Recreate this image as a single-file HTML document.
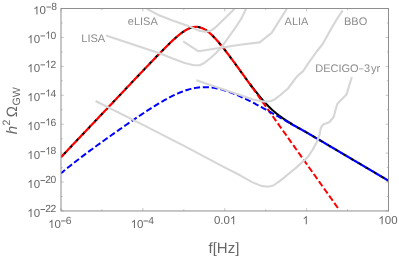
<!DOCTYPE html>
<html><head><meta charset="utf-8"><title>GW spectrum</title>
<style>html,body{margin:0;padding:0;background:#fff;}body{width:399px;height:259px;position:relative;overflow:hidden;font-family:"Liberation Sans",sans-serif;}</style>
</head><body>
<svg width="399" height="259" viewBox="0 0 399 259" style="position:absolute;left:0;top:0;text-rendering:geometricPrecision;will-change:transform">
<defs><clipPath id="c"><rect x="61.00" y="8.50" width="327.50" height="202.45"/></clipPath><clipPath id="cl2"><rect x="252" y="0" width="150" height="259"/></clipPath><clipPath id="cr2"><rect x="0" y="0" width="290" height="259"/></clipPath><clipPath id="cl"><rect x="0" y="0" width="252" height="259"/></clipPath><clipPath id="cr"><rect x="290" y="0" width="110" height="259"/></clipPath></defs>
<g clip-path="url(#c)" fill="none" stroke-linejoin="round">
<path d="M61.00 156.77 L62.00 155.73 L63.00 154.68 L64.00 153.64 L65.00 152.60 L66.00 151.56 L67.00 150.52 L68.00 149.48 L69.00 148.44 L70.00 147.39 L71.00 146.35 L72.00 145.31 L73.00 144.26 L74.00 143.22 L75.00 142.18 L76.00 141.13 L77.00 140.09 L78.00 139.04 L79.00 138.00 L80.00 136.95 L81.00 135.91 L82.00 134.86 L83.00 133.81 L84.00 132.77 L85.00 131.72 L86.00 130.67 L87.00 129.62 L88.00 128.57 L89.00 127.52 L90.00 126.48 L91.00 125.43 L92.00 124.38 L93.00 123.33 L94.00 122.28 L95.00 121.23 L96.00 120.18 L97.00 119.13 L98.00 118.07 L99.00 117.02 L100.00 115.97 L101.00 114.92 L102.00 113.87 L103.00 112.82 L104.00 111.76 L105.00 110.71 L106.00 109.66 L107.00 108.61 L108.00 107.55 L109.00 106.50 L110.00 105.45 L111.00 104.39 L112.00 103.34 L113.00 102.29 L114.00 101.23 L115.00 100.18 L116.00 99.13 L117.00 98.07 L118.00 97.02 L119.00 95.96 L120.00 94.91 L121.00 93.86 L122.00 92.80 L123.00 91.75 L124.00 90.69 L125.00 89.64 L126.00 88.59 L127.00 87.53 L128.00 86.48 L129.00 85.42 L130.00 84.37 L131.00 83.32 L132.00 82.26 L133.00 81.21 L134.00 80.16 L135.00 79.10 L136.00 78.05 L137.00 77.00 L138.00 75.94 L139.00 74.89 L140.00 73.84 L141.00 72.79 L142.00 71.74 L143.00 70.68 L144.00 69.63 L145.00 68.58 L146.00 67.54 L147.00 66.49 L148.00 65.44 L149.00 64.39 L150.00 63.35 L151.00 62.30 L152.00 61.26 L153.00 60.22 L154.00 59.18 L155.00 58.14 L156.00 57.10 L157.00 56.07 L158.00 55.04 L159.00 54.01 L160.00 52.98 L161.00 51.96 L162.00 50.94 L163.00 49.93 L164.00 48.92 L165.00 47.92 L166.00 46.92 L167.00 45.93 L168.00 44.94 L169.00 43.97 L170.00 43.00 L171.00 42.05 L172.00 41.10 L173.00 40.17 L174.00 39.26 L175.00 38.35 L176.00 37.47 L177.00 36.60 L178.00 35.76 L179.00 34.93 L180.00 34.14 L181.00 33.36 L182.00 32.62 L183.00 31.91 L184.00 31.24 L185.00 30.60 L186.00 30.01 L187.00 29.45 L188.00 28.95 L189.00 28.49 L190.00 28.08 L191.00 27.73 L192.00 27.44 L193.00 27.21 L194.00 27.04 L195.00 26.94 L196.00 26.90 L197.00 26.93 L198.00 27.03 L199.00 27.20 L200.00 27.43 L201.00 27.74 L202.00 28.11 L203.00 28.55 L204.00 29.06 L205.00 29.62 L206.00 30.25 L207.00 30.94 L208.00 31.69 L209.00 32.48 L210.00 33.33 L211.00 34.22 L212.00 35.16 L213.00 36.14 L214.00 37.16 L215.00 38.21 L216.00 39.30 L217.00 40.41 L218.00 41.56 L219.00 42.72 L220.00 43.92 L221.00 45.13 L222.00 46.36 L223.00 47.61 L224.00 48.87 L225.00 50.15 L226.00 51.44 L227.00 52.75 L228.00 54.06 L229.00 55.38 L230.00 56.71 L231.00 58.05 L232.00 59.39 L233.00 60.74 L234.00 62.10 L235.00 63.45 L236.00 64.82 L237.00 66.18 L238.00 67.55 L239.00 68.92 L240.00 70.28 L241.00 71.65 L242.00 73.02 L243.00 74.39 L244.00 75.76 L245.00 77.13 L246.00 78.49 L247.00 79.85 L248.00 81.21 L249.00 82.56 L250.00 83.91 L251.00 85.25 L252.00 86.58 L253.00 87.90 L254.00 89.22 L255.00 90.52 L256.00 91.81 L257.00 93.09 L258.00 94.35 L259.00 95.59 L260.00 96.82 L261.00 98.03 L262.00 99.21 L263.00 100.38 L264.00 101.52 L265.00 102.63 L266.00 103.72 L267.00 104.79 L268.00 105.82 L269.00 106.83 L270.00 107.81 L271.00 108.76 L272.00 109.69 L273.00 110.58 L274.00 111.45 L275.00 112.30 L276.00 113.12 L277.00 113.93 L278.00 114.70 L279.00 115.46 L280.00 116.21 L281.00 116.93 L282.00 117.64 L283.00 118.34 L284.00 119.02 L285.00 119.69 L286.00 120.35 L287.00 121.00 L288.00 121.63 L289.00 122.25 L290.00 122.87 L291.00 123.47 L292.00 124.07 L293.00 124.66 L294.00 125.24 L295.00 125.82 L296.00 126.40 L297.00 126.97 L298.00 127.54 L299.00 128.11 L300.00 128.68 L301.00 129.24 L302.00 129.81 L303.00 130.37 L304.00 130.94 L305.00 131.51 L306.00 132.08 L307.00 132.66 L308.00 133.23 L309.00 133.81 L310.00 134.40 L311.00 134.99 L312.00 135.58 L313.00 136.17 L314.00 136.76 L315.00 137.35 L316.00 137.94 L317.00 138.53 L318.00 139.12 L319.00 139.71 L320.00 140.30 L321.00 140.89 L322.00 141.48 L323.00 142.07 L324.00 142.66 L325.00 143.25 L326.00 143.84 L327.00 144.43 L328.00 145.02 L329.00 145.61 L330.00 146.20 L331.00 146.79 L332.00 147.38 L333.00 147.97 L334.00 148.56 L335.00 149.15 L336.00 149.74 L337.00 150.33 L338.00 150.92 L339.00 151.51 L340.00 152.10 L341.00 152.69 L342.00 153.28 L343.00 153.87 L344.00 154.46 L345.00 155.05 L346.00 155.64 L347.00 156.23 L348.00 156.82 L349.00 157.41 L350.00 158.00 L351.00 158.59 L352.00 159.18 L353.00 159.77 L354.00 160.36 L355.00 160.95 L356.00 161.54 L357.00 162.13 L358.00 162.72 L359.00 163.31 L360.00 163.90 L361.00 164.49 L362.00 165.08 L363.00 165.67 L364.00 166.26 L365.00 166.85 L366.00 167.44 L367.00 168.03 L368.00 168.62 L369.00 169.21 L370.00 169.80 L371.00 170.39 L372.00 170.98 L373.00 171.57 L374.00 172.16 L375.00 172.75 L376.00 173.34 L377.00 173.93 L378.00 174.52 L379.00 175.11 L380.00 175.71 L381.00 176.30 L382.00 176.89 L383.00 177.48 L384.00 178.07 L385.00 178.66 L386.00 179.25 L387.00 179.84 L388.00 180.43 L388.50 180.72" stroke="#000" stroke-width="1.1"/>
<path d="M250.00 83.91 L250.50 84.58 L251.00 85.25 L251.50 85.91 L252.00 86.58 L252.50 87.24 L253.00 87.90 L253.50 88.56 L254.00 89.22 L254.50 89.87 L255.00 90.52 L255.50 91.17 L256.00 91.81 L256.50 92.45 L257.00 93.09 L257.50 93.72 L258.00 94.35 L258.50 94.97 L259.00 95.59 L259.50 96.21 L260.00 96.82 L260.50 97.43 L261.00 98.03 L261.50 98.62 L262.00 99.21 L262.50 99.80 L263.00 100.38 L263.50 100.95 L264.00 101.52 L264.50 102.08 L265.00 102.63 L265.50 103.18 L266.00 103.72 L266.50 104.26 L267.00 104.79 L267.50 105.31 L268.00 105.82 L268.50 106.33 L269.00 106.83 L269.50 107.32 L270.00 107.81 L270.50 108.29 L271.00 108.76 L271.50 109.23 L272.00 109.69 L272.50 110.14 L273.00 110.58 L273.50 111.02 L274.00 111.45 L274.50 111.88 L275.00 112.30 L275.50 112.72 L276.00 113.12 L276.50 113.53 L277.00 113.93 L277.50 114.32 L278.00 114.70 L278.50 115.09 L279.00 115.46 L279.50 115.84 L280.00 116.21 L280.50 116.57 L281.00 116.93 L281.50 117.29 L282.00 117.64 L282.50 117.99 L283.00 118.34 L283.50 118.68 L284.00 119.02 L284.50 119.36 L285.00 119.69 L285.50 120.02 L286.00 120.35 L286.50 120.68 L287.00 121.00 L287.50 121.31 L288.00 121.63 L288.50 121.94 L289.00 122.25 L289.50 122.56 L290.00 122.87 L290.50 123.17 L291.00 123.47 L291.50 123.77 L292.00 124.07" stroke="#000" stroke-width="2.00"/>
<path d="M61.00 157.23 L62.00 156.17 L63.00 155.12 L64.00 154.06 L65.00 153.01 L66.00 151.95 L67.00 150.89 L68.00 149.84 L69.00 148.78 L70.00 147.73 L71.00 146.67 L72.00 145.61 L73.00 144.56 L74.00 143.50 L75.00 142.45 L76.00 141.39 L77.00 140.34 L78.00 139.28 L79.00 138.22 L80.00 137.17 L81.00 136.11 L82.00 135.06 L83.00 134.00 L84.00 132.94 L85.00 131.89 L86.00 130.83 L87.00 129.78 L88.00 128.72 L89.00 127.67 L90.00 126.61 L91.00 125.55 L92.00 124.50 L93.00 123.44 L94.00 122.39 L95.00 121.33 L96.00 120.27 L97.00 119.22 L98.00 118.16 L99.00 117.11 L100.00 116.05 L101.00 115.00 L102.00 113.94 L103.00 112.88 L104.00 111.83 L105.00 110.77 L106.00 109.72 L107.00 108.66 L108.00 107.60 L109.00 106.55 L110.00 105.49 L111.00 104.44 L112.00 103.38 L113.00 102.33 L114.00 101.27 L115.00 100.21 L116.00 99.16 L117.00 98.10 L118.00 97.05 L119.00 95.99 L120.00 94.94 L121.00 93.88 L122.00 92.83 L123.00 91.77 L124.00 90.72 L125.00 89.66 L126.00 88.60 L127.00 87.55 L128.00 86.49 L129.00 85.44 L130.00 84.38 L131.00 83.33 L132.00 82.28 L133.00 81.22 L134.00 80.17 L135.00 79.11 L136.00 78.06 L137.00 77.01 L138.00 75.95 L139.00 74.90 L140.00 73.85 L141.00 72.79 L142.00 71.74 L143.00 70.69 L144.00 69.64 L145.00 68.59 L146.00 67.54 L147.00 66.49 L148.00 65.44 L149.00 64.40 L150.00 63.35 L151.00 62.31 L152.00 61.26 L153.00 60.22 L154.00 59.18 L155.00 58.14 L156.00 57.10 L157.00 56.07 L158.00 55.04 L159.00 54.01 L160.00 52.98 L161.00 51.96 L162.00 50.94 L163.00 49.93 L164.00 48.92 L165.00 47.92 L166.00 46.92 L167.00 45.93 L168.00 44.95 L169.00 43.97 L170.00 43.00 L171.00 42.05 L172.00 41.11 L173.00 40.17 L174.00 39.26 L175.00 38.35 L176.00 37.47 L177.00 36.60 L178.00 35.76 L179.00 34.93 L180.00 34.14 L181.00 33.37 L182.00 32.62 L183.00 31.91 L184.00 31.24 L185.00 30.60 L186.00 30.01 L187.00 29.45 L188.00 28.95 L189.00 28.49 L190.00 28.08 L191.00 27.73 L192.00 27.44 L193.00 27.21 L194.00 27.04 L195.00 26.94 L196.00 26.90 L197.00 26.93 L198.00 27.03 L199.00 27.20 L200.00 27.43 L201.00 27.74 L202.00 28.11 L203.00 28.55 L204.00 29.06 L205.00 29.63 L206.00 30.25 L207.00 30.94 L208.00 31.69 L209.00 32.48 L210.00 33.33 L211.00 34.22 L212.00 35.16 L213.00 36.14 L214.00 37.16 L215.00 38.21 L216.00 39.30 L217.00 40.42 L218.00 41.56 L219.00 42.73 L220.00 43.92 L221.00 45.13 L222.00 46.37 L223.00 47.62 L224.00 48.88 L225.00 50.16 L226.00 51.46 L227.00 52.76 L228.00 54.08 L229.00 55.40 L230.00 56.73 L231.00 58.07 L232.00 59.42 L233.00 60.78 L234.00 62.14 L235.00 63.50 L236.00 64.87 L237.00 66.24 L238.00 67.62 L239.00 69.00 L240.00 70.38 L241.00 71.77 L242.00 73.16 L243.00 74.55 L244.00 75.94 L245.00 77.33 L246.00 78.73 L247.00 80.12 L248.00 81.52 L249.00 82.92 L250.00 84.32 L251.00 85.72 L252.00 87.12 L253.00 88.52 L254.00 89.93 L255.00 91.33 L256.00 92.73 L257.00 94.14 L258.00 95.54 L259.00 96.95 L260.00 98.35 L261.00 99.76 L262.00 101.16 L263.00 102.57 L264.00 103.98 L265.00 105.38 L266.00 106.79 L267.00 108.20 L268.00 109.60 L269.00 111.01 L270.00 112.42 L271.00 113.82 L272.00 115.23 L273.00 116.64 L274.00 118.04 L275.00 119.45 L276.00 120.86 L277.00 122.27 L278.00 123.67 L279.00 125.08 L280.00 126.49 L281.00 127.90 L282.00 129.30 L283.00 130.71 L284.00 132.12 L285.00 133.53 L286.00 134.93 L287.00 136.34 L288.00 137.75 L289.00 139.16 L290.00 140.57 L291.00 141.97 L292.00 143.38 L293.00 144.79 L294.00 146.20 L295.00 147.60 L296.00 149.01 L297.00 150.42 L298.00 151.83 L299.00 153.24 L300.00 154.64 L301.00 156.05 L302.00 157.46 L303.00 158.87 L304.00 160.27 L305.00 161.68 L306.00 163.09 L307.00 164.50 L308.00 165.91 L309.00 167.31 L310.00 168.72 L311.00 170.13 L312.00 171.54 L313.00 172.94 L314.00 174.35 L315.00 175.76 L316.00 177.17 L317.00 178.58 L318.00 179.98 L319.00 181.39 L320.00 182.80 L321.00 184.21 L322.00 185.61 L323.00 187.02 L324.00 188.43 L325.00 189.84 L326.00 191.25 L327.00 192.65 L328.00 194.06 L329.00 195.47 L330.00 196.88 L331.00 198.28 L332.00 199.69 L333.00 201.10 L334.00 202.51 L335.00 203.92 L336.00 205.32 L337.00 206.73 L338.00 208.14" stroke="#000" stroke-width="2.20" stroke-dasharray="3.40 5.47" stroke-dashoffset="4.62" clip-path="url(#cl)"/>
<path d="M61.00 173.32 L62.00 172.48 L63.00 171.65 L64.00 170.83 L65.00 170.00 L66.00 169.19 L67.00 168.38 L68.00 167.57 L69.00 166.76 L70.00 165.96 L71.00 165.17 L72.00 164.38 L73.00 163.59 L74.00 162.80 L75.00 162.02 L76.00 161.24 L77.00 160.47 L78.00 159.70 L79.00 158.93 L80.00 158.17 L81.00 157.40 L82.00 156.64 L83.00 155.89 L84.00 155.13 L85.00 154.38 L86.00 153.63 L87.00 152.89 L88.00 152.14 L89.00 151.40 L90.00 150.66 L91.00 149.92 L92.00 149.19 L93.00 148.45 L94.00 147.72 L95.00 146.99 L96.00 146.26 L97.00 145.53 L98.00 144.81 L99.00 144.08 L100.00 143.36 L101.00 142.64 L102.00 141.92 L103.00 141.20 L104.00 140.48 L105.00 139.77 L106.00 139.05 L107.00 138.34 L108.00 137.62 L109.00 136.91 L110.00 136.20 L111.00 135.49 L112.00 134.79 L113.00 134.08 L114.00 133.37 L115.00 132.67 L116.00 131.96 L117.00 131.26 L118.00 130.56 L119.00 129.86 L120.00 129.16 L121.00 128.46 L122.00 127.77 L123.00 127.07 L124.00 126.38 L125.00 125.68 L126.00 124.99 L127.00 124.30 L128.00 123.61 L129.00 122.92 L130.00 122.24 L131.00 121.55 L132.00 120.87 L133.00 120.19 L134.00 119.51 L135.00 118.83 L136.00 118.15 L137.00 117.48 L138.00 116.81 L139.00 116.14 L140.00 115.47 L141.00 114.80 L142.00 114.14 L143.00 113.48 L144.00 112.82 L145.00 112.16 L146.00 111.51 L147.00 110.86 L148.00 110.21 L149.00 109.57 L150.00 108.93 L151.00 108.29 L152.00 107.66 L153.00 107.03 L154.00 106.41 L155.00 105.79 L156.00 105.17 L157.00 104.56 L158.00 103.96 L159.00 103.36 L160.00 102.76 L161.00 102.18 L162.00 101.59 L163.00 101.02 L164.00 100.45 L165.00 99.89 L166.00 99.33 L167.00 98.79 L168.00 98.25 L169.00 97.72 L170.00 97.19 L171.00 96.68 L172.00 96.18 L173.00 95.68 L174.00 95.20 L175.00 94.72 L176.00 94.26 L177.00 93.81 L178.00 93.37 L179.00 92.94 L180.00 92.53 L181.00 92.12 L182.00 91.74 L183.00 91.36 L184.00 91.00 L185.00 90.65 L186.00 90.32 L187.00 90.00 L188.00 89.70 L189.00 89.41 L190.00 89.14 L191.00 88.88 L192.00 88.65 L193.00 88.43 L194.00 88.22 L195.00 88.04 L196.00 87.87 L197.00 87.71 L198.00 87.58 L199.00 87.47 L200.00 87.37 L201.00 87.29 L202.00 87.23 L203.00 87.18 L204.00 87.16 L205.00 87.15 L206.00 87.16 L207.00 87.19 L208.00 87.24 L209.00 87.30 L210.00 87.38 L211.00 87.48 L212.00 87.60 L213.00 87.73 L214.00 87.88 L215.00 88.04 L216.00 88.22 L217.00 88.42 L218.00 88.63 L219.00 88.85 L220.00 89.09 L221.00 89.35 L222.00 89.62 L223.00 89.90 L224.00 90.19 L225.00 90.50 L226.00 90.82 L227.00 91.15 L228.00 91.49 L229.00 91.84 L230.00 92.20 L231.00 92.58 L232.00 92.96 L233.00 93.35 L234.00 93.75 L235.00 94.16 L236.00 94.58 L237.00 95.01 L238.00 95.45 L239.00 95.89 L240.00 96.34 L241.00 96.79 L242.00 97.25 L243.00 97.72 L244.00 98.20 L245.00 98.68 L246.00 99.16 L247.00 99.65 L248.00 100.15 L249.00 100.65 L250.00 101.15 L251.00 101.66 L252.00 102.17 L253.00 102.69 L254.00 103.21 L255.00 103.73 L256.00 104.26 L257.00 104.79 L258.00 105.32 L259.00 105.86 L260.00 106.40 L261.00 106.94 L262.00 107.48 L263.00 108.03 L264.00 108.57 L265.00 109.12 L266.00 109.68 L267.00 110.23 L268.00 110.78 L269.00 111.34 L270.00 111.90 L271.00 112.46 L272.00 113.02 L273.00 113.58 L274.00 114.15 L275.00 114.71 L276.00 115.28 L277.00 115.85 L278.00 116.42 L279.00 116.99 L280.00 117.56 L281.00 118.13 L282.00 118.70 L283.00 119.27 L284.00 119.85 L285.00 120.42 L286.00 120.99 L287.00 121.56 L288.00 122.13 L289.00 122.69 L290.00 123.25 L291.00 123.81 L292.00 124.36 L293.00 124.92 L294.00 125.47 L295.00 126.02 L296.00 126.57 L297.00 127.12 L298.00 127.67 L299.00 128.22 L300.00 128.78 L301.00 129.33 L302.00 129.88 L303.00 130.44 L304.00 131.00 L305.00 131.56 L306.00 132.13 L307.00 132.70 L308.00 133.27 L309.00 133.84 L310.00 134.43 L311.00 135.01 L312.00 135.60 L313.00 136.19 L314.00 136.78 L315.00 137.37 L316.00 137.95 L317.00 138.54 L318.00 139.13 L319.00 139.72 L320.00 140.31 L321.00 140.90 L322.00 141.49 L323.00 142.07 L324.00 142.66 L325.00 143.25 L326.00 143.84 L327.00 144.43 L328.00 145.02 L329.00 145.61 L330.00 146.20 L331.00 146.79 L332.00 147.38 L333.00 147.97 L334.00 148.56 L335.00 149.15 L336.00 149.74 L337.00 150.33 L338.00 150.92 L339.00 151.51 L340.00 152.10 L341.00 152.69 L342.00 153.28 L343.00 153.87 L344.00 154.46 L345.00 155.05 L346.00 155.64 L347.00 156.23 L348.00 156.82 L349.00 157.41 L350.00 158.00 L351.00 158.59 L352.00 159.18 L353.00 159.77 L354.00 160.36 L355.00 160.95 L356.00 161.54 L357.00 162.13 L358.00 162.72 L359.00 163.31 L360.00 163.90 L361.00 164.49 L362.00 165.08 L363.00 165.67 L364.00 166.26 L365.00 166.85 L366.00 167.44 L367.00 168.03 L368.00 168.62 L369.00 169.21 L370.00 169.80 L371.00 170.39 L372.00 170.98 L373.00 171.57 L374.00 172.16 L375.00 172.75 L376.00 173.34 L377.00 173.93 L378.00 174.52 L379.00 175.11 L380.00 175.71 L381.00 176.30 L382.00 176.89 L383.00 177.48 L384.00 178.07 L385.00 178.66 L386.00 179.25 L387.00 179.84 L388.00 180.43 L388.50 180.72" stroke="#000" stroke-width="2.20" stroke-dasharray="3.40 5.47" stroke-dashoffset="3.93" clip-path="url(#cr)"/>
<path d="M61.00 157.23 L62.00 156.17 L63.00 155.12 L64.00 154.06 L65.00 153.01 L66.00 151.95 L67.00 150.89 L68.00 149.84 L69.00 148.78 L70.00 147.73 L71.00 146.67 L72.00 145.61 L73.00 144.56 L74.00 143.50 L75.00 142.45 L76.00 141.39 L77.00 140.34 L78.00 139.28 L79.00 138.22 L80.00 137.17 L81.00 136.11 L82.00 135.06 L83.00 134.00 L84.00 132.94 L85.00 131.89 L86.00 130.83 L87.00 129.78 L88.00 128.72 L89.00 127.67 L90.00 126.61 L91.00 125.55 L92.00 124.50 L93.00 123.44 L94.00 122.39 L95.00 121.33 L96.00 120.27 L97.00 119.22 L98.00 118.16 L99.00 117.11 L100.00 116.05 L101.00 115.00 L102.00 113.94 L103.00 112.88 L104.00 111.83 L105.00 110.77 L106.00 109.72 L107.00 108.66 L108.00 107.60 L109.00 106.55 L110.00 105.49 L111.00 104.44 L112.00 103.38 L113.00 102.33 L114.00 101.27 L115.00 100.21 L116.00 99.16 L117.00 98.10 L118.00 97.05 L119.00 95.99 L120.00 94.94 L121.00 93.88 L122.00 92.83 L123.00 91.77 L124.00 90.72 L125.00 89.66 L126.00 88.60 L127.00 87.55 L128.00 86.49 L129.00 85.44 L130.00 84.38 L131.00 83.33 L132.00 82.28 L133.00 81.22 L134.00 80.17 L135.00 79.11 L136.00 78.06 L137.00 77.01 L138.00 75.95 L139.00 74.90 L140.00 73.85 L141.00 72.79 L142.00 71.74 L143.00 70.69 L144.00 69.64 L145.00 68.59 L146.00 67.54 L147.00 66.49 L148.00 65.44 L149.00 64.40 L150.00 63.35 L151.00 62.31 L152.00 61.26 L153.00 60.22 L154.00 59.18 L155.00 58.14 L156.00 57.10 L157.00 56.07 L158.00 55.04 L159.00 54.01 L160.00 52.98 L161.00 51.96 L162.00 50.94 L163.00 49.93 L164.00 48.92 L165.00 47.92 L166.00 46.92 L167.00 45.93 L168.00 44.95 L169.00 43.97 L170.00 43.00 L171.00 42.05 L172.00 41.11 L173.00 40.17 L174.00 39.26 L175.00 38.35 L176.00 37.47 L177.00 36.60 L178.00 35.76 L179.00 34.93 L180.00 34.14 L181.00 33.37 L182.00 32.62 L183.00 31.91 L184.00 31.24 L185.00 30.60 L186.00 30.01 L187.00 29.45 L188.00 28.95 L189.00 28.49 L190.00 28.08 L191.00 27.73 L192.00 27.44 L193.00 27.21 L194.00 27.04 L195.00 26.94 L196.00 26.90 L197.00 26.93 L198.00 27.03 L199.00 27.20 L200.00 27.43 L201.00 27.74 L202.00 28.11 L203.00 28.55 L204.00 29.06 L205.00 29.63 L206.00 30.25 L207.00 30.94 L208.00 31.69 L209.00 32.48 L210.00 33.33 L211.00 34.22 L212.00 35.16 L213.00 36.14 L214.00 37.16 L215.00 38.21 L216.00 39.30 L217.00 40.42 L218.00 41.56 L219.00 42.73 L220.00 43.92 L221.00 45.13 L222.00 46.37 L223.00 47.62 L224.00 48.88 L225.00 50.16 L226.00 51.46 L227.00 52.76 L228.00 54.08 L229.00 55.40 L230.00 56.73 L231.00 58.07 L232.00 59.42 L233.00 60.78 L234.00 62.14 L235.00 63.50 L236.00 64.87 L237.00 66.24 L238.00 67.62 L239.00 69.00 L240.00 70.38 L241.00 71.77 L242.00 73.16 L243.00 74.55 L244.00 75.94 L245.00 77.33 L246.00 78.73 L247.00 80.12 L248.00 81.52 L249.00 82.92 L250.00 84.32 L251.00 85.72 L252.00 87.12 L253.00 88.52 L254.00 89.93 L255.00 91.33 L256.00 92.73 L257.00 94.14 L258.00 95.54 L259.00 96.95 L260.00 98.35 L261.00 99.76 L262.00 101.16 L263.00 102.57 L264.00 103.98 L265.00 105.38 L266.00 106.79 L267.00 108.20 L268.00 109.60 L269.00 111.01 L270.00 112.42 L271.00 113.82 L272.00 115.23 L273.00 116.64 L274.00 118.04 L275.00 119.45 L276.00 120.86 L277.00 122.27 L278.00 123.67 L279.00 125.08 L280.00 126.49 L281.00 127.90 L282.00 129.30 L283.00 130.71 L284.00 132.12 L285.00 133.53 L286.00 134.93 L287.00 136.34 L288.00 137.75 L289.00 139.16 L290.00 140.57 L291.00 141.97 L292.00 143.38 L293.00 144.79 L294.00 146.20 L295.00 147.60 L296.00 149.01 L297.00 150.42 L298.00 151.83 L299.00 153.24 L300.00 154.64 L301.00 156.05 L302.00 157.46 L303.00 158.87 L304.00 160.27 L305.00 161.68 L306.00 163.09 L307.00 164.50 L308.00 165.91 L309.00 167.31 L310.00 168.72 L311.00 170.13 L312.00 171.54 L313.00 172.94 L314.00 174.35 L315.00 175.76 L316.00 177.17 L317.00 178.58 L318.00 179.98 L319.00 181.39 L320.00 182.80 L321.00 184.21 L322.00 185.61 L323.00 187.02 L324.00 188.43 L325.00 189.84 L326.00 191.25 L327.00 192.65 L328.00 194.06 L329.00 195.47 L330.00 196.88 L331.00 198.28 L332.00 199.69 L333.00 201.10 L334.00 202.51 L335.00 203.92 L336.00 205.32 L337.00 206.73 L338.00 208.14" stroke="#ff0000" stroke-width="2.20" stroke-dasharray="6.67 2.20" stroke-dashoffset="1.82" clip-path="url(#cl)"/>
<path d="M61.00 173.32 L62.00 172.48 L63.00 171.65 L64.00 170.83 L65.00 170.00 L66.00 169.19 L67.00 168.38 L68.00 167.57 L69.00 166.76 L70.00 165.96 L71.00 165.17 L72.00 164.38 L73.00 163.59 L74.00 162.80 L75.00 162.02 L76.00 161.24 L77.00 160.47 L78.00 159.70 L79.00 158.93 L80.00 158.17 L81.00 157.40 L82.00 156.64 L83.00 155.89 L84.00 155.13 L85.00 154.38 L86.00 153.63 L87.00 152.89 L88.00 152.14 L89.00 151.40 L90.00 150.66 L91.00 149.92 L92.00 149.19 L93.00 148.45 L94.00 147.72 L95.00 146.99 L96.00 146.26 L97.00 145.53 L98.00 144.81 L99.00 144.08 L100.00 143.36 L101.00 142.64 L102.00 141.92 L103.00 141.20 L104.00 140.48 L105.00 139.77 L106.00 139.05 L107.00 138.34 L108.00 137.62 L109.00 136.91 L110.00 136.20 L111.00 135.49 L112.00 134.79 L113.00 134.08 L114.00 133.37 L115.00 132.67 L116.00 131.96 L117.00 131.26 L118.00 130.56 L119.00 129.86 L120.00 129.16 L121.00 128.46 L122.00 127.77 L123.00 127.07 L124.00 126.38 L125.00 125.68 L126.00 124.99 L127.00 124.30 L128.00 123.61 L129.00 122.92 L130.00 122.24 L131.00 121.55 L132.00 120.87 L133.00 120.19 L134.00 119.51 L135.00 118.83 L136.00 118.15 L137.00 117.48 L138.00 116.81 L139.00 116.14 L140.00 115.47 L141.00 114.80 L142.00 114.14 L143.00 113.48 L144.00 112.82 L145.00 112.16 L146.00 111.51 L147.00 110.86 L148.00 110.21 L149.00 109.57 L150.00 108.93 L151.00 108.29 L152.00 107.66 L153.00 107.03 L154.00 106.41 L155.00 105.79 L156.00 105.17 L157.00 104.56 L158.00 103.96 L159.00 103.36 L160.00 102.76 L161.00 102.18 L162.00 101.59 L163.00 101.02 L164.00 100.45 L165.00 99.89 L166.00 99.33 L167.00 98.79 L168.00 98.25 L169.00 97.72 L170.00 97.19 L171.00 96.68 L172.00 96.18 L173.00 95.68 L174.00 95.20 L175.00 94.72 L176.00 94.26 L177.00 93.81 L178.00 93.37 L179.00 92.94 L180.00 92.53 L181.00 92.12 L182.00 91.74 L183.00 91.36 L184.00 91.00 L185.00 90.65 L186.00 90.32 L187.00 90.00 L188.00 89.70 L189.00 89.41 L190.00 89.14 L191.00 88.88 L192.00 88.65 L193.00 88.43 L194.00 88.22 L195.00 88.04 L196.00 87.87 L197.00 87.71 L198.00 87.58 L199.00 87.47 L200.00 87.37 L201.00 87.29 L202.00 87.23 L203.00 87.18 L204.00 87.16 L205.00 87.15 L206.00 87.16 L207.00 87.19 L208.00 87.24 L209.00 87.30 L210.00 87.38 L211.00 87.48 L212.00 87.60 L213.00 87.73 L214.00 87.88 L215.00 88.04 L216.00 88.22 L217.00 88.42 L218.00 88.63 L219.00 88.85 L220.00 89.09 L221.00 89.35 L222.00 89.62 L223.00 89.90 L224.00 90.19 L225.00 90.50 L226.00 90.82 L227.00 91.15 L228.00 91.49 L229.00 91.84 L230.00 92.20 L231.00 92.58 L232.00 92.96 L233.00 93.35 L234.00 93.75 L235.00 94.16 L236.00 94.58 L237.00 95.01 L238.00 95.45 L239.00 95.89 L240.00 96.34 L241.00 96.79 L242.00 97.25 L243.00 97.72 L244.00 98.20 L245.00 98.68 L246.00 99.16 L247.00 99.65 L248.00 100.15 L249.00 100.65 L250.00 101.15 L251.00 101.66 L252.00 102.17 L253.00 102.69 L254.00 103.21 L255.00 103.73 L256.00 104.26 L257.00 104.79 L258.00 105.32 L259.00 105.86 L260.00 106.40 L261.00 106.94 L262.00 107.48 L263.00 108.03 L264.00 108.57 L265.00 109.12 L266.00 109.68 L267.00 110.23 L268.00 110.78 L269.00 111.34 L270.00 111.90 L271.00 112.46 L272.00 113.02 L273.00 113.58 L274.00 114.15 L275.00 114.71 L276.00 115.28 L277.00 115.85 L278.00 116.42 L279.00 116.99 L280.00 117.56 L281.00 118.13 L282.00 118.70 L283.00 119.27 L284.00 119.85 L285.00 120.42 L286.00 120.99 L287.00 121.56 L288.00 122.13 L289.00 122.69 L290.00 123.25 L291.00 123.81 L292.00 124.36 L293.00 124.92 L294.00 125.47 L295.00 126.02 L296.00 126.57 L297.00 127.12 L298.00 127.67 L299.00 128.22 L300.00 128.78 L301.00 129.33 L302.00 129.88 L303.00 130.44 L304.00 131.00 L305.00 131.56 L306.00 132.13 L307.00 132.70 L308.00 133.27 L309.00 133.84 L310.00 134.43 L311.00 135.01 L312.00 135.60 L313.00 136.19 L314.00 136.78 L315.00 137.37 L316.00 137.95 L317.00 138.54 L318.00 139.13 L319.00 139.72 L320.00 140.31 L321.00 140.90 L322.00 141.49 L323.00 142.07 L324.00 142.66 L325.00 143.25 L326.00 143.84 L327.00 144.43 L328.00 145.02 L329.00 145.61 L330.00 146.20 L331.00 146.79 L332.00 147.38 L333.00 147.97 L334.00 148.56 L335.00 149.15 L336.00 149.74 L337.00 150.33 L338.00 150.92 L339.00 151.51 L340.00 152.10 L341.00 152.69 L342.00 153.28 L343.00 153.87 L344.00 154.46 L345.00 155.05 L346.00 155.64 L347.00 156.23 L348.00 156.82 L349.00 157.41 L350.00 158.00 L351.00 158.59 L352.00 159.18 L353.00 159.77 L354.00 160.36 L355.00 160.95 L356.00 161.54 L357.00 162.13 L358.00 162.72 L359.00 163.31 L360.00 163.90 L361.00 164.49 L362.00 165.08 L363.00 165.67 L364.00 166.26 L365.00 166.85 L366.00 167.44 L367.00 168.03 L368.00 168.62 L369.00 169.21 L370.00 169.80 L371.00 170.39 L372.00 170.98 L373.00 171.57 L374.00 172.16 L375.00 172.75 L376.00 173.34 L377.00 173.93 L378.00 174.52 L379.00 175.11 L380.00 175.71 L381.00 176.30 L382.00 176.89 L383.00 177.48 L384.00 178.07 L385.00 178.66 L386.00 179.25 L387.00 179.84 L388.00 180.43 L388.50 180.72" stroke="#0000ff" stroke-width="2.20" stroke-dasharray="6.67 2.20" stroke-dashoffset="1.13" clip-path="url(#cr)"/>
<path d="M61.00 157.23 L62.00 156.17 L63.00 155.12 L64.00 154.06 L65.00 153.01 L66.00 151.95 L67.00 150.89 L68.00 149.84 L69.00 148.78 L70.00 147.73 L71.00 146.67 L72.00 145.61 L73.00 144.56 L74.00 143.50 L75.00 142.45 L76.00 141.39 L77.00 140.34 L78.00 139.28 L79.00 138.22 L80.00 137.17 L81.00 136.11 L82.00 135.06 L83.00 134.00 L84.00 132.94 L85.00 131.89 L86.00 130.83 L87.00 129.78 L88.00 128.72 L89.00 127.67 L90.00 126.61 L91.00 125.55 L92.00 124.50 L93.00 123.44 L94.00 122.39 L95.00 121.33 L96.00 120.27 L97.00 119.22 L98.00 118.16 L99.00 117.11 L100.00 116.05 L101.00 115.00 L102.00 113.94 L103.00 112.88 L104.00 111.83 L105.00 110.77 L106.00 109.72 L107.00 108.66 L108.00 107.60 L109.00 106.55 L110.00 105.49 L111.00 104.44 L112.00 103.38 L113.00 102.33 L114.00 101.27 L115.00 100.21 L116.00 99.16 L117.00 98.10 L118.00 97.05 L119.00 95.99 L120.00 94.94 L121.00 93.88 L122.00 92.83 L123.00 91.77 L124.00 90.72 L125.00 89.66 L126.00 88.60 L127.00 87.55 L128.00 86.49 L129.00 85.44 L130.00 84.38 L131.00 83.33 L132.00 82.28 L133.00 81.22 L134.00 80.17 L135.00 79.11 L136.00 78.06 L137.00 77.01 L138.00 75.95 L139.00 74.90 L140.00 73.85 L141.00 72.79 L142.00 71.74 L143.00 70.69 L144.00 69.64 L145.00 68.59 L146.00 67.54 L147.00 66.49 L148.00 65.44 L149.00 64.40 L150.00 63.35 L151.00 62.31 L152.00 61.26 L153.00 60.22 L154.00 59.18 L155.00 58.14 L156.00 57.10 L157.00 56.07 L158.00 55.04 L159.00 54.01 L160.00 52.98 L161.00 51.96 L162.00 50.94 L163.00 49.93 L164.00 48.92 L165.00 47.92 L166.00 46.92 L167.00 45.93 L168.00 44.95 L169.00 43.97 L170.00 43.00 L171.00 42.05 L172.00 41.11 L173.00 40.17 L174.00 39.26 L175.00 38.35 L176.00 37.47 L177.00 36.60 L178.00 35.76 L179.00 34.93 L180.00 34.14 L181.00 33.37 L182.00 32.62 L183.00 31.91 L184.00 31.24 L185.00 30.60 L186.00 30.01 L187.00 29.45 L188.00 28.95 L189.00 28.49 L190.00 28.08 L191.00 27.73 L192.00 27.44 L193.00 27.21 L194.00 27.04 L195.00 26.94 L196.00 26.90 L197.00 26.93 L198.00 27.03 L199.00 27.20 L200.00 27.43 L201.00 27.74 L202.00 28.11 L203.00 28.55 L204.00 29.06 L205.00 29.63 L206.00 30.25 L207.00 30.94 L208.00 31.69 L209.00 32.48 L210.00 33.33 L211.00 34.22 L212.00 35.16 L213.00 36.14 L214.00 37.16 L215.00 38.21 L216.00 39.30 L217.00 40.42 L218.00 41.56 L219.00 42.73 L220.00 43.92 L221.00 45.13 L222.00 46.37 L223.00 47.62 L224.00 48.88 L225.00 50.16 L226.00 51.46 L227.00 52.76 L228.00 54.08 L229.00 55.40 L230.00 56.73 L231.00 58.07 L232.00 59.42 L233.00 60.78 L234.00 62.14 L235.00 63.50 L236.00 64.87 L237.00 66.24 L238.00 67.62 L239.00 69.00 L240.00 70.38 L241.00 71.77 L242.00 73.16 L243.00 74.55 L244.00 75.94 L245.00 77.33 L246.00 78.73 L247.00 80.12 L248.00 81.52 L249.00 82.92 L250.00 84.32 L251.00 85.72 L252.00 87.12 L253.00 88.52 L254.00 89.93 L255.00 91.33 L256.00 92.73 L257.00 94.14 L258.00 95.54 L259.00 96.95 L260.00 98.35 L261.00 99.76 L262.00 101.16 L263.00 102.57 L264.00 103.98 L265.00 105.38 L266.00 106.79 L267.00 108.20 L268.00 109.60 L269.00 111.01 L270.00 112.42 L271.00 113.82 L272.00 115.23 L273.00 116.64 L274.00 118.04 L275.00 119.45 L276.00 120.86 L277.00 122.27 L278.00 123.67 L279.00 125.08 L280.00 126.49 L281.00 127.90 L282.00 129.30 L283.00 130.71 L284.00 132.12 L285.00 133.53 L286.00 134.93 L287.00 136.34 L288.00 137.75 L289.00 139.16 L290.00 140.57 L291.00 141.97 L292.00 143.38 L293.00 144.79 L294.00 146.20 L295.00 147.60 L296.00 149.01 L297.00 150.42 L298.00 151.83 L299.00 153.24 L300.00 154.64 L301.00 156.05 L302.00 157.46 L303.00 158.87 L304.00 160.27 L305.00 161.68 L306.00 163.09 L307.00 164.50 L308.00 165.91 L309.00 167.31 L310.00 168.72 L311.00 170.13 L312.00 171.54 L313.00 172.94 L314.00 174.35 L315.00 175.76 L316.00 177.17 L317.00 178.58 L318.00 179.98 L319.00 181.39 L320.00 182.80 L321.00 184.21 L322.00 185.61 L323.00 187.02 L324.00 188.43 L325.00 189.84 L326.00 191.25 L327.00 192.65 L328.00 194.06 L329.00 195.47 L330.00 196.88 L331.00 198.28 L332.00 199.69 L333.00 201.10 L334.00 202.51 L335.00 203.92 L336.00 205.32 L337.00 206.73 L338.00 208.14" stroke="#ff0000" stroke-width="2.00" stroke-dasharray="6.17 2.70" stroke-dashoffset="1.57" clip-path="url(#cl2)"/>
<path d="M61.00 173.32 L62.00 172.48 L63.00 171.65 L64.00 170.83 L65.00 170.00 L66.00 169.19 L67.00 168.38 L68.00 167.57 L69.00 166.76 L70.00 165.96 L71.00 165.17 L72.00 164.38 L73.00 163.59 L74.00 162.80 L75.00 162.02 L76.00 161.24 L77.00 160.47 L78.00 159.70 L79.00 158.93 L80.00 158.17 L81.00 157.40 L82.00 156.64 L83.00 155.89 L84.00 155.13 L85.00 154.38 L86.00 153.63 L87.00 152.89 L88.00 152.14 L89.00 151.40 L90.00 150.66 L91.00 149.92 L92.00 149.19 L93.00 148.45 L94.00 147.72 L95.00 146.99 L96.00 146.26 L97.00 145.53 L98.00 144.81 L99.00 144.08 L100.00 143.36 L101.00 142.64 L102.00 141.92 L103.00 141.20 L104.00 140.48 L105.00 139.77 L106.00 139.05 L107.00 138.34 L108.00 137.62 L109.00 136.91 L110.00 136.20 L111.00 135.49 L112.00 134.79 L113.00 134.08 L114.00 133.37 L115.00 132.67 L116.00 131.96 L117.00 131.26 L118.00 130.56 L119.00 129.86 L120.00 129.16 L121.00 128.46 L122.00 127.77 L123.00 127.07 L124.00 126.38 L125.00 125.68 L126.00 124.99 L127.00 124.30 L128.00 123.61 L129.00 122.92 L130.00 122.24 L131.00 121.55 L132.00 120.87 L133.00 120.19 L134.00 119.51 L135.00 118.83 L136.00 118.15 L137.00 117.48 L138.00 116.81 L139.00 116.14 L140.00 115.47 L141.00 114.80 L142.00 114.14 L143.00 113.48 L144.00 112.82 L145.00 112.16 L146.00 111.51 L147.00 110.86 L148.00 110.21 L149.00 109.57 L150.00 108.93 L151.00 108.29 L152.00 107.66 L153.00 107.03 L154.00 106.41 L155.00 105.79 L156.00 105.17 L157.00 104.56 L158.00 103.96 L159.00 103.36 L160.00 102.76 L161.00 102.18 L162.00 101.59 L163.00 101.02 L164.00 100.45 L165.00 99.89 L166.00 99.33 L167.00 98.79 L168.00 98.25 L169.00 97.72 L170.00 97.19 L171.00 96.68 L172.00 96.18 L173.00 95.68 L174.00 95.20 L175.00 94.72 L176.00 94.26 L177.00 93.81 L178.00 93.37 L179.00 92.94 L180.00 92.53 L181.00 92.12 L182.00 91.74 L183.00 91.36 L184.00 91.00 L185.00 90.65 L186.00 90.32 L187.00 90.00 L188.00 89.70 L189.00 89.41 L190.00 89.14 L191.00 88.88 L192.00 88.65 L193.00 88.43 L194.00 88.22 L195.00 88.04 L196.00 87.87 L197.00 87.71 L198.00 87.58 L199.00 87.47 L200.00 87.37 L201.00 87.29 L202.00 87.23 L203.00 87.18 L204.00 87.16 L205.00 87.15 L206.00 87.16 L207.00 87.19 L208.00 87.24 L209.00 87.30 L210.00 87.38 L211.00 87.48 L212.00 87.60 L213.00 87.73 L214.00 87.88 L215.00 88.04 L216.00 88.22 L217.00 88.42 L218.00 88.63 L219.00 88.85 L220.00 89.09 L221.00 89.35 L222.00 89.62 L223.00 89.90 L224.00 90.19 L225.00 90.50 L226.00 90.82 L227.00 91.15 L228.00 91.49 L229.00 91.84 L230.00 92.20 L231.00 92.58 L232.00 92.96 L233.00 93.35 L234.00 93.75 L235.00 94.16 L236.00 94.58 L237.00 95.01 L238.00 95.45 L239.00 95.89 L240.00 96.34 L241.00 96.79 L242.00 97.25 L243.00 97.72 L244.00 98.20 L245.00 98.68 L246.00 99.16 L247.00 99.65 L248.00 100.15 L249.00 100.65 L250.00 101.15 L251.00 101.66 L252.00 102.17 L253.00 102.69 L254.00 103.21 L255.00 103.73 L256.00 104.26 L257.00 104.79 L258.00 105.32 L259.00 105.86 L260.00 106.40 L261.00 106.94 L262.00 107.48 L263.00 108.03 L264.00 108.57 L265.00 109.12 L266.00 109.68 L267.00 110.23 L268.00 110.78 L269.00 111.34 L270.00 111.90 L271.00 112.46 L272.00 113.02 L273.00 113.58 L274.00 114.15 L275.00 114.71 L276.00 115.28 L277.00 115.85 L278.00 116.42 L279.00 116.99 L280.00 117.56 L281.00 118.13 L282.00 118.70 L283.00 119.27 L284.00 119.85 L285.00 120.42 L286.00 120.99 L287.00 121.56 L288.00 122.13 L289.00 122.69 L290.00 123.25 L291.00 123.81 L292.00 124.36 L293.00 124.92 L294.00 125.47 L295.00 126.02 L296.00 126.57 L297.00 127.12 L298.00 127.67 L299.00 128.22 L300.00 128.78 L301.00 129.33 L302.00 129.88 L303.00 130.44 L304.00 131.00 L305.00 131.56 L306.00 132.13 L307.00 132.70 L308.00 133.27 L309.00 133.84 L310.00 134.43 L311.00 135.01 L312.00 135.60 L313.00 136.19 L314.00 136.78 L315.00 137.37 L316.00 137.95 L317.00 138.54 L318.00 139.13 L319.00 139.72 L320.00 140.31 L321.00 140.90 L322.00 141.49 L323.00 142.07 L324.00 142.66 L325.00 143.25 L326.00 143.84 L327.00 144.43 L328.00 145.02 L329.00 145.61 L330.00 146.20 L331.00 146.79 L332.00 147.38 L333.00 147.97 L334.00 148.56 L335.00 149.15 L336.00 149.74 L337.00 150.33 L338.00 150.92 L339.00 151.51 L340.00 152.10 L341.00 152.69 L342.00 153.28 L343.00 153.87 L344.00 154.46 L345.00 155.05 L346.00 155.64 L347.00 156.23 L348.00 156.82 L349.00 157.41 L350.00 158.00 L351.00 158.59 L352.00 159.18 L353.00 159.77 L354.00 160.36 L355.00 160.95 L356.00 161.54 L357.00 162.13 L358.00 162.72 L359.00 163.31 L360.00 163.90 L361.00 164.49 L362.00 165.08 L363.00 165.67 L364.00 166.26 L365.00 166.85 L366.00 167.44 L367.00 168.03 L368.00 168.62 L369.00 169.21 L370.00 169.80 L371.00 170.39 L372.00 170.98 L373.00 171.57 L374.00 172.16 L375.00 172.75 L376.00 173.34 L377.00 173.93 L378.00 174.52 L379.00 175.11 L380.00 175.71 L381.00 176.30 L382.00 176.89 L383.00 177.48 L384.00 178.07 L385.00 178.66 L386.00 179.25 L387.00 179.84 L388.00 180.43 L388.50 180.72" stroke="#0000ff" stroke-width="2.00" stroke-dasharray="6.17 2.70" stroke-dashoffset="0.88" clip-path="url(#cr2)"/>
<path d="M146.80 8.80 L159.60 15.60 L173.20 20.80 L186.80 25.40 L199.00 30.60 L205.00 31.80 L211.00 30.60 L214.50 28.20 L218.20 24.80 L226.20 17.00 L234.50 8.80" stroke="#d6d6d6" stroke-width="2.1" stroke-linecap="butt"/>
<path d="M106.00 35.50 L158.80 52.90 L172.60 58.40 L184.70 62.90 L193.70 65.20 L199.80 65.20 L204.30 62.90 L210.50 58.00 L215.00 54.00 L220.10 49.10 L235.20 28.00 L241.30 18.60 L246.10 8.80" stroke="#d6d6d6" stroke-width="2.1" stroke-linecap="butt"/>
<path d="M183.20 41.30 L198.50 51.30 L240.00 44.80 L259.60 42.40 L271.70 32.90 L286.80 8.80" stroke="#d6d6d6" stroke-width="2.1" stroke-linecap="butt"/>
<path d="M196.30 80.30 L240.00 94.90 L253.00 99.40 L260.00 101.00 L265.50 101.60 L271.00 101.00 L275.00 99.20 L280.40 95.00 L288.00 88.50 L294.30 80.00 L297.10 76.40 L303.10 71.10 L309.10 62.10 L316.70 51.50 L322.70 44.00 L330.20 30.60 L337.70 17.80 L342.70 10.30" stroke="#d6d6d6" stroke-width="2.1" stroke-linecap="butt"/>
<path d="M95.60 101.00 L145.00 125.90 L185.00 146.40 L225.00 167.60 L240.10 175.30 L252.10 182.10 L261.20 185.90 L268.00 186.70 L273.30 185.50 L279.30 181.40 L285.00 176.90 L288.70 173.70 L296.20 167.60 L303.70 160.90 L308.30 156.30 L312.80 149.50 L317.20 141.20 L319.40 135.20 L320.90 127.60 L323.20 124.60 L329.20 122.30 L333.70 117.00 L335.20 110.90 L337.40 103.70 L346.50 94.60 L351.80 77.30" stroke="#d6d6d6" stroke-width="2.1" stroke-linecap="butt"/>
</g>
<rect x="61.00" y="8.50" width="327.50" height="202.45" fill="none" stroke="#8e8e8e" stroke-width="1"/>
<path d="M61.00 8.50h2.90 M388.50 8.50h-2.90 M61.00 22.96h1.70 M388.50 22.96h-1.70 M61.00 37.42h2.90 M388.50 37.42h-2.90 M61.00 51.88h1.70 M388.50 51.88h-1.70 M61.00 66.34h2.90 M388.50 66.34h-2.90 M61.00 80.80h1.70 M388.50 80.80h-1.70 M61.00 95.26h2.90 M388.50 95.26h-2.90 M61.00 109.72h1.70 M388.50 109.72h-1.70 M61.00 124.19h2.90 M388.50 124.19h-2.90 M61.00 138.65h1.70 M388.50 138.65h-1.70 M61.00 153.11h2.90 M388.50 153.11h-2.90 M61.00 167.57h1.70 M388.50 167.57h-1.70 M61.00 182.03h2.90 M388.50 182.03h-2.90 M61.00 196.49h1.70 M388.50 196.49h-1.70 M61.00 210.95h2.90 M388.50 210.95h-2.90 M61.00 210.95v-2.90 M61.00 8.50v2.90 M101.94 210.95v-1.70 M101.94 8.50v1.70 M142.88 210.95v-2.90 M142.88 8.50v2.90 M183.81 210.95v-1.70 M183.81 8.50v1.70 M224.75 210.95v-2.90 M224.75 8.50v2.90 M265.69 210.95v-1.70 M265.69 8.50v1.70 M306.62 210.95v-2.90 M306.62 8.50v2.90 M347.56 210.95v-1.70 M347.56 8.50v1.70 M388.50 210.95v-2.90 M388.50 8.50v2.90" stroke="#8e8e8e" stroke-width="0.5" fill="none"/>
<g font-family="Liberation Sans, sans-serif" fill="#666">
<path d="M763 0H583V1147Q518 1085 412.5 1023T223 930V1104Q374 1175 487 1276T647 1472H763Z" transform="translate(33.15 14.45) scale(0.00562 -0.00562)"/><text x="39.54" y="14.45" font-size="11.50">0</text><rect x="46.39" y="6.55" width="4.6" height="0.95"/><text x="51.14" y="9.85" font-size="10.30" letter-spacing="-0.35">8</text>
<path d="M763 0H583V1147Q518 1085 412.5 1023T223 930V1104Q374 1175 487 1276T647 1472H763Z" transform="translate(27.25 43.37) scale(0.00562 -0.00562)"/><text x="33.64" y="43.37" font-size="11.50">0</text><rect x="40.49" y="35.47" width="4.6" height="0.95"/><path d="M763 0H583V1147Q518 1085 412.5 1023T223 930V1104Q374 1175 487 1276T647 1472H763Z" transform="translate(45.24 38.77) scale(0.00503 -0.00503)"/><text x="50.61" y="38.77" font-size="10.30" letter-spacing="-0.35">0</text>
<path d="M763 0H583V1147Q518 1085 412.5 1023T223 930V1104Q374 1175 487 1276T647 1472H763Z" transform="translate(27.25 72.29) scale(0.00562 -0.00562)"/><text x="33.64" y="72.29" font-size="11.50">0</text><rect x="40.49" y="64.39" width="4.6" height="0.95"/><path d="M763 0H583V1147Q518 1085 412.5 1023T223 930V1104Q374 1175 487 1276T647 1472H763Z" transform="translate(45.24 67.69) scale(0.00503 -0.00503)"/><text x="50.61" y="67.69" font-size="10.30" letter-spacing="-0.35">2</text>
<path d="M763 0H583V1147Q518 1085 412.5 1023T223 930V1104Q374 1175 487 1276T647 1472H763Z" transform="translate(27.25 101.21) scale(0.00562 -0.00562)"/><text x="33.64" y="101.21" font-size="11.50">0</text><rect x="40.49" y="93.31" width="4.6" height="0.95"/><path d="M763 0H583V1147Q518 1085 412.5 1023T223 930V1104Q374 1175 487 1276T647 1472H763Z" transform="translate(45.24 96.61) scale(0.00503 -0.00503)"/><text x="50.61" y="96.61" font-size="10.30" letter-spacing="-0.35">4</text>
<path d="M763 0H583V1147Q518 1085 412.5 1023T223 930V1104Q374 1175 487 1276T647 1472H763Z" transform="translate(27.25 130.14) scale(0.00562 -0.00562)"/><text x="33.64" y="130.14" font-size="11.50">0</text><rect x="40.49" y="122.24" width="4.6" height="0.95"/><path d="M763 0H583V1147Q518 1085 412.5 1023T223 930V1104Q374 1175 487 1276T647 1472H763Z" transform="translate(45.24 125.54) scale(0.00503 -0.00503)"/><text x="50.61" y="125.54" font-size="10.30" letter-spacing="-0.35">6</text>
<path d="M763 0H583V1147Q518 1085 412.5 1023T223 930V1104Q374 1175 487 1276T647 1472H763Z" transform="translate(27.25 159.06) scale(0.00562 -0.00562)"/><text x="33.64" y="159.06" font-size="11.50">0</text><rect x="40.49" y="151.16" width="4.6" height="0.95"/><path d="M763 0H583V1147Q518 1085 412.5 1023T223 930V1104Q374 1175 487 1276T647 1472H763Z" transform="translate(45.24 154.46) scale(0.00503 -0.00503)"/><text x="50.61" y="154.46" font-size="10.30" letter-spacing="-0.35">8</text>
<path d="M763 0H583V1147Q518 1085 412.5 1023T223 930V1104Q374 1175 487 1276T647 1472H763Z" transform="translate(27.25 187.98) scale(0.00562 -0.00562)"/><text x="33.64" y="187.98" font-size="11.50">0</text><rect x="40.49" y="180.08" width="4.6" height="0.95"/><text x="45.24" y="183.38" font-size="10.30" letter-spacing="-0.35">20</text>
<path d="M763 0H583V1147Q518 1085 412.5 1023T223 930V1104Q374 1175 487 1276T647 1472H763Z" transform="translate(27.25 216.90) scale(0.00562 -0.00562)"/><text x="33.64" y="216.90" font-size="11.50">0</text><rect x="40.49" y="209.00" width="4.6" height="0.95"/><text x="45.24" y="212.30" font-size="10.30" letter-spacing="-0.35">22</text>
<path d="M763 0H583V1147Q518 1085 412.5 1023T223 930V1104Q374 1175 487 1276T647 1472H763Z" transform="translate(48.15 228.00) scale(0.00562 -0.00562)"/><text x="54.54" y="228.00" font-size="11.50">0</text><rect x="60.99" y="220.50" width="4.6" height="0.95"/><text x="65.74" y="223.80" font-size="10.30" letter-spacing="-0.35">6</text>
<path d="M763 0H583V1147Q518 1085 412.5 1023T223 930V1104Q374 1175 487 1276T647 1472H763Z" transform="translate(130.65 228.00) scale(0.00562 -0.00562)"/><text x="137.04" y="228.00" font-size="11.50">0</text><rect x="143.49" y="220.50" width="4.6" height="0.95"/><text x="148.24" y="223.80" font-size="10.30" letter-spacing="-0.35">4</text>
<text x="213.90" y="224.25" font-size="11.50">0.0</text><path d="M763 0H583V1147Q518 1085 412.5 1023T223 930V1104Q374 1175 487 1276T647 1472H763Z" transform="translate(229.89 224.25) scale(0.00562 -0.00562)"/>
<path d="M763 0H583V1147Q518 1085 412.5 1023T223 930V1104Q374 1175 487 1276T647 1472H763Z" transform="translate(302.50 224.25) scale(0.00562 -0.00562)"/>
<path d="M763 0H583V1147Q518 1085 412.5 1023T223 930V1104Q374 1175 487 1276T647 1472H763Z" transform="translate(378.35 224.25) scale(0.00562 -0.00562)"/><text x="384.74" y="224.25" font-size="11.50">00</text>
<text x="208.5" y="252.6" font-size="15">f[Hz]</text>
<g transform="translate(16.6 134.2) rotate(-90)"><text x="0" y="0" font-size="15" font-style="italic">h</text><text x="8.6" y="-6.8" font-size="10.65">2</text><text x="17.0" y="0" font-size="15">Ω</text><text x="28.8" y="3.4" font-size="10.65">GW</text></g>
</g>
<g font-family="Liberation Sans, sans-serif" fill="#8c8c8c" font-size="11">
<text x="81.3" y="41.6">LISA</text>
<text x="127.8" y="25.3">eLISA</text>
<text x="284.6" y="25.3">ALIA</text>
<text x="344.0" y="25.3">BBO</text>
<text x="315.2" y="72.1">DECIGO<tspan font-size="9.3">−</tspan>3<tspan dx="0.9">yr</tspan></text>
</g>
</svg>
</body></html>
